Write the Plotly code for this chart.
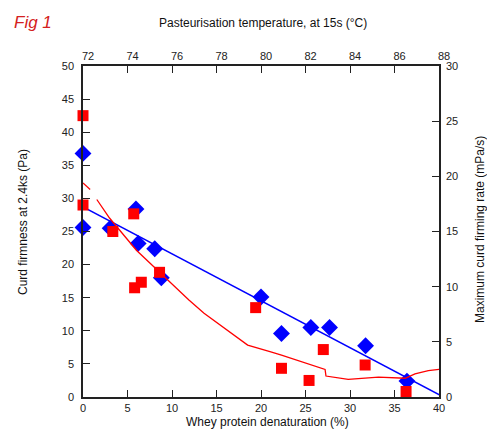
import plotly.graph_objects as go

# Blue diamonds: curd firmness (left axis, Pa)
blue_x = [0, 0, 3.05, 5.95, 6.2, 8.06, 8.8, 20.0, 22.3, 25.6, 27.7, 31.75, 36.4]
blue_y = [36.8, 25.6, 25.5, 28.4, 23.2, 22.4, 18.0, 15.1, 9.6, 10.5, 10.5, 7.75, 2.4]
# Blue fitted line
blue_fit_x = [0, 41.5]
blue_fit_y = [28.7, -0.7]

# Red squares: max curd firming rate (right axis, mPa/s)
red_x = [0, 0, 3.35, 5.7, 5.8, 6.55, 8.6, 19.4, 22.3, 25.4, 27.0, 31.7, 36.3]
red_y = [25.5, 17.4, 15.0, 16.6, 9.9, 10.4, 11.3, 8.1, 2.6, 1.5, 4.3, 2.9, 0.5]
# Red fitted curve
red_fit_x = [0, 0.8, None, 1.55, 3.0, 6.0, 8.7, 9.8, 11.9, 13.6, 16.6, 18.5, 21.1, 22.3,
             27.2, 27.3, 29.8, 33.2, 36.2, 37.3, 38.8, 41]
red_fit_y = [19.4, 18.8, None, 17.9, 16.2, 13.3, 11.2, 10.4, 8.8, 7.6, 5.8, 4.7, 4.1, 3.8,
             2.5, 1.9, 1.6, 1.8, 1.7, 2.1, 2.4, 2.6]

top_ticks = [72, 74, 76, 78, 80, 82, 84, 86, 88]

FONT = "Liberation Sans"
AX = "#222222"

fig = go.Figure()
fig.add_trace(go.Scatter(x=blue_fit_x, y=blue_fit_y, mode="lines",
                         line=dict(color="#0000ff", width=1.5), showlegend=False))
fig.add_trace(go.Scatter(x=red_fit_x, y=red_fit_y, mode="lines", yaxis="y2",
                         line=dict(color="#ff0000", width=1.3), showlegend=False,
                         connectgaps=False))
fig.add_trace(go.Scatter(x=red_x, y=red_y, mode="markers", yaxis="y2", cliponaxis=False,
                         marker=dict(symbol="square", size=11, color="#ff0000"),
                         showlegend=False))
fig.add_trace(go.Scatter(x=blue_x, y=blue_y, mode="markers", cliponaxis=False,
                         marker=dict(symbol="diamond", size=13, color="#0000ff"),
                         showlegend=False))
# dummy for top axis
fig.add_trace(go.Scatter(x=[72, 88], y=[0, 0], xaxis="x2", mode="markers",
                         marker=dict(opacity=0), hoverinfo="skip", showlegend=False))

common = dict(showgrid=False, zeroline=False, showline=True, linecolor=AX, linewidth=1.5,
              ticks="inside", ticklen=7, tickwidth=1.3, tickcolor=AX,
              tickfont=dict(family=FONT, size=11, color="#222"))

fig.update_layout(
    width=487, height=431,
    margin=dict(l=83, r=48, t=66, b=34),
    plot_bgcolor="white", paper_bgcolor="white",
    xaxis=dict(range=[0, 40], dtick=5, tick0=0, **common),
    xaxis2=dict(range=[72, 88], tickvals=top_ticks, overlaying="x", side="top", anchor="y",
                ticklabelshift=5, **common),
    yaxis=dict(range=[0, 50], dtick=5, tick0=0, ticklabelstandoff=5, **common),
    yaxis2=dict(range=[0, 30], dtick=5, tick0=0, overlaying="y", side="right", anchor="x",
                ticklabelstandoff=3, **common),
    annotations=[
        dict(text="<i>Fig 1</i>", x=12, y=22, showarrow=False,
             font=dict(family=FONT, size=17, color="#d42020"), xanchor="left", yanchor="middle"),
        dict(text="Pasteurisation temperature, at 15s (°C)", x=263, y=23,
             showarrow=False, font=dict(family=FONT, size=12, color="#111"),
             xanchor="center", yanchor="middle"),
        dict(text="Whey protein denaturation (%)", x=267, y=422, showarrow=False,
             font=dict(family=FONT, size=12, color="#111"), xanchor="center", yanchor="middle"),
        dict(text="Curd firmness at 2.4ks (Pa)", x=23, y=222, textangle=-90, showarrow=False,
             font=dict(family=FONT, size=12, color="#111"), xanchor="center", yanchor="middle"),
        dict(text="Maximum curd firming rate (mPa/s)", x=480, y=229, textangle=-90,
             showarrow=False, font=dict(family=FONT, size=12, color="#111"),
             xanchor="center", yanchor="middle"),
    ],
)
# convert pixel annotation positions to paper coords
W, H = 487, 431
l, r, t, b = 83, 48, 66, 34
pw, ph = W - l - r, H - t - b
for a in fig.layout.annotations:
    a.xref = "paper"; a.yref = "paper"
    a.x = (a.x - l) / pw
    a.y = (H - b - a.y) / ph

fig.write_html("out.html")
